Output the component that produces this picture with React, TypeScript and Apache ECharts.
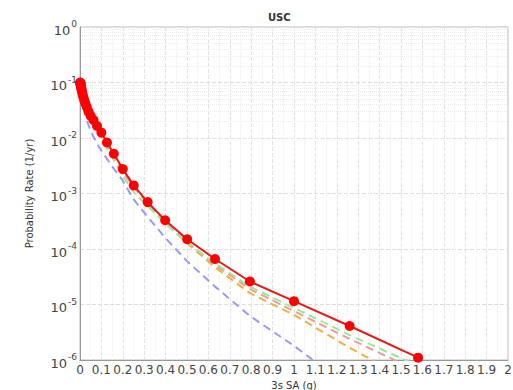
import React, { useEffect, useRef } from "react";
import * as echarts from "echarts";

const xValues = [
  0.001, 0.00126, 0.00158, 0.002, 0.00251, 0.00316, 0.00398, 0.00501, 0.00631, 0.00794,
  0.01, 0.0126, 0.0158, 0.02, 0.0251, 0.0316, 0.0398, 0.0501, 0.0631, 0.0794,
  0.1, 0.126, 0.158, 0.2, 0.251, 0.316, 0.398, 0.501, 0.631, 0.794, 1.0, 1.26, 1.58,
];

const redRates = [
  1.0e-1, 9.9e-2, 9.8e-2, 9.6e-2, 9.4e-2, 9.1e-2, 8.8e-2, 8.3e-2, 7.8e-2, 7.2e-2,
  6.6e-2, 6.0e-2, 5.4e-2, 4.8e-2, 4.2e-2, 3.6e-2, 3.0e-2, 2.5e-2, 2.1e-2, 1.65e-2,
  1.25e-2, 8.3e-3, 5.2e-3, 2.75e-3, 1.4e-3, 7.0e-4, 3.3e-4, 1.5e-4, 6.6e-5, 2.6e-5, 1.15e-5, 4.1e-6, 1.1e-6,
];

const blueRates = [
  9.9e-2, 9.7e-2, 9.5e-2, 9.2e-2, 8.9e-2, 8.5e-2, 8.0e-2, 7.4e-2, 6.7e-2, 6.0e-2,
  5.3e-2, 4.6e-2, 3.9e-2, 3.2e-2, 2.6e-2, 2.1e-2, 1.7e-2, 1.35e-2, 1.05e-2, 8.0e-3,
  5.9e-3, 4.2e-3, 2.8e-3, 1.7e-3, 7.8e-4, 3.8e-4, 1.6e-4, 6.0e-5, 2.1e-5, 6.2e-6, 1.8e-6, 3.2e-7, 5.0e-8,
];

const greenRates = [
  9.6e-2, 9.5e-2, 9.3e-2, 9.1e-2, 8.9e-2, 8.6e-2, 8.3e-2, 7.8e-2, 7.3e-2, 6.7e-2,
  6.1e-2, 5.3e-2, 4.8e-2, 4.2e-2, 3.7e-2, 3.2e-2, 2.6e-2, 2.2e-2, 1.75e-2, 1.37e-2,
  1.03e-2, 6.5e-3, 4.0e-3, 2.1e-3, 1.05e-3, 6.0e-4, 2.9e-4, 1.3e-4, 5.5e-5, 2.1e-5, 8.7e-6, 2.8e-6, 7.9e-7,
];

const pinkRates = [
  9.9e-2, 9.8e-2, 9.6e-2, 9.4e-2, 9.2e-2, 8.9e-2, 8.5e-2, 8.1e-2, 7.6e-2, 7.0e-2,
  6.4e-2, 5.8e-2, 5.2e-2, 4.6e-2, 4.0e-2, 3.4e-2, 2.85e-2, 2.35e-2, 1.95e-2, 1.52e-2,
  1.15e-2, 7.6e-3, 4.7e-3, 2.5e-3, 1.3e-3, 6.8e-4, 3.2e-4, 1.35e-4, 5.2e-5, 1.9e-5, 7.6e-6, 2.4e-6, 6.3e-7,
];

const orangeRates = [
  9.8e-2, 9.7e-2, 9.5e-2, 9.3e-2, 9.0e-2, 8.7e-2, 8.4e-2, 7.9e-2, 7.4e-2, 6.8e-2,
  6.2e-2, 5.6e-2, 5.0e-2, 4.4e-2, 3.9e-2, 3.3e-2, 2.8e-2, 2.3e-2, 1.9e-2, 1.5e-2,
  1.12e-2, 7.4e-3, 4.6e-3, 2.5e-3, 1.3e-3, 6.6e-4, 3.0e-4, 1.26e-4, 4.7e-5, 1.6e-5, 6.5e-6, 1.66e-6, 3.5e-7,
];

const titleText = "USC";
const xAxisName = "3s SA (g)";
const yAxisName = "Probability Rate (1/yr)";

const pair = (ys: number[]) => xValues.map((x, i) => [x, ys[i]]);

export default function App() {
  const ref = useRef<HTMLDivElement>(null);
  useEffect(() => {
    if (!ref.current) return;
    const chart = echarts.init(ref.current, null, { renderer: "svg" });

    const minorLines: any[] = [];
    for (let e = -6; e < 0; e++) {
      for (let m = 2; m <= 9; m++) {
        minorLines.push({ yAxis: m * Math.pow(10, e) });
      }
    }

    const dashed = (name: string, color: string, ys: number[]) => ({
      name,
      type: "line",
      data: pair(ys),
      showSymbol: false,
      symbol: "none",
      lineStyle: { color, width: 2, type: [8, 5] },
      z: 2,
    });

    chart.setOption({
      animation: false,
      backgroundColor: "#ffffff",
      title: {
        text: titleText,
        left: 263,
        top: 7,
        textStyle: { fontSize: 10, fontWeight: "bold", color: "#333", fontFamily: "DejaVu Sans" },
      },
      grid: {
        left: 80,
        top: 27,
        right: 5,
        bottom: 30,
        show: true,
        borderColor: "#bbbbbb",
        borderWidth: 1,
        containLabel: false,
        outerBoundsMode: "none",
      },
      xAxis: {
        type: "value",
        min: 0,
        max: 2,
        interval: 0.1,
        name: xAxisName,
        nameLocation: "middle",
        nameGap: 16,
        nameTextStyle: { fontSize: 10, color: "#333", fontFamily: "DejaVu Sans", verticalAlign: "top" },
        axisLine: { show: true, lineStyle: { color: "#999" } },
        axisTick: { show: false },
        axisLabel: {
          fontSize: 12,
          color: "#444",
          margin: 4,
          fontFamily: "DejaVu Sans",
          formatter: (v: number) => String(Math.round(v * 10) / 10),
        },
        splitLine: { show: true, lineStyle: { color: "#e2e2e2", type: "dashed", width: 1 } },
        minorTick: { show: false, splitNumber: 2 },
        minorSplitLine: { show: true, lineStyle: { color: "#eeeeee", type: "dotted", width: 1 } },
      },
      yAxis: {
        type: "log",
        logBase: 10,
        min: 1e-6,
        max: 1,
        name: yAxisName,
        nameLocation: "middle",
        nameGap: 46,
        nameTextStyle: { fontSize: 10, color: "#333", fontFamily: "DejaVu Sans" },
        axisLine: { show: true, lineStyle: { color: "#999" } },
        axisTick: { show: false },
        axisLabel: {
          margin: 3,
          formatter: (v: number) => "{b|10}{s|" + Math.round(Math.log10(v)) + "}",
          rich: {
            b: { fontSize: 13, color: "#444", fontFamily: "DejaVu Sans", padding: [6, 0, 0, 0] },
            s: { fontSize: 9, color: "#444", fontFamily: "DejaVu Sans", padding: [0, 0, 6, 1] },
          },
        },
        splitLine: { show: true, lineStyle: { color: "#dddddd", type: "dashed", width: 1 } },
      },
      series: [
        {
          ...dashed("blue", "#9a9af0", blueRates),
          markLine: {
            silent: true,
            symbol: "none",
            label: { show: false },
            lineStyle: { color: "#ececec", type: "dotted", width: 1 },
            data: minorLines,
            z: 0,
          },
        },
        dashed("orange", "#f0b040", orangeRates),
        dashed("pink", "#f09a9a", pinkRates),
        dashed("green", "#9ae89a", greenRates),
        {
          name: "total",
          type: "line",
          data: pair(redRates),
          symbol: "circle",
          symbolSize: 10,
          itemStyle: { color: "#ff0000" },
          lineStyle: { color: "#e81818", width: 2 },
          z: 5,
        },
      ],
    });
    return () => chart.dispose();
  }, []);
  return (
    <div
      ref={ref}
      style={{ position: "fixed", left: 0, top: 0, width: 513, height: 390 }}
    />
  );
}
